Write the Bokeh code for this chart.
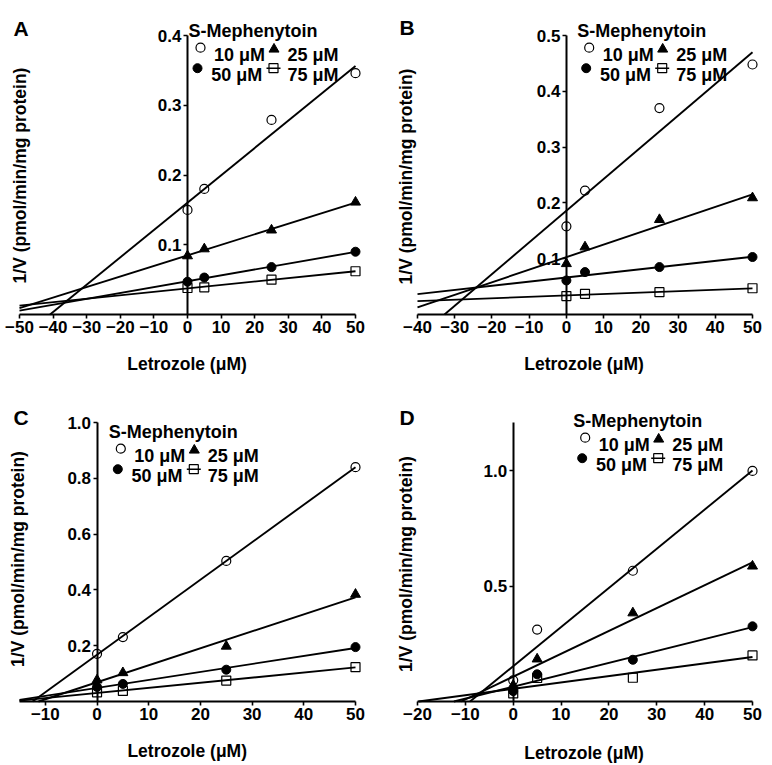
import numpy as np
from bokeh.plotting import figure
from bokeh.models import Range1d, FixedTicker, PrintfTickFormatter, Label
from bokeh.layouts import column, row
from bokeh.embed import file_html
from bokeh.resources import INLINE

# ---------------- data ----------------
letrozole = [0, 5, 25, 50]                       # Letrozole (uM)
series_labels = ["10 μM", "25 μM", "50 μM", "75 μM"]  # S-Mephenytoin concentrations

# Panel A  (1/V)
a_10 = [0.150, 0.180, 0.279, 0.346]
a_25 = [0.084, 0.094, 0.121, 0.161]
a_50 = [0.047, 0.053, 0.068, 0.090]
a_75 = [0.038, 0.039, 0.050, 0.062]

# Panel B
b_10 = [0.158, 0.222, 0.370, 0.448]
b_25 = [0.091, 0.121, 0.170, 0.209]
b_50 = [0.061, 0.076, 0.085, 0.103]
b_75 = [0.033, 0.037, 0.040, 0.047]

# Panel C
c_10 = [0.171, 0.231, 0.504, 0.840]
c_25 = [0.077, 0.103, 0.198, 0.384]
c_50 = [0.052, 0.063, 0.114, 0.195]
c_75 = [0.033, 0.038, 0.075, 0.123]

# Panel D
d_10 = [0.092, 0.312, 0.567, 1.000]
d_25 = [0.070, 0.184, 0.384, 0.587]
d_50 = [0.045, 0.118, 0.181, 0.326]
d_75 = [0.035, 0.102, 0.103, 0.200]

# axes
a_xticks = [-50, -40, -30, -20, -10, 0, 10, 20, 30, 40, 50]
a_yticks = [0.1, 0.2, 0.3, 0.4]
b_xticks = [-40, -30, -20, -10, 0, 10, 20, 30, 40, 50]
b_yticks = [0.1, 0.2, 0.3, 0.4, 0.5]
c_xticks = [-10, 0, 10, 20, 30, 40, 50]
c_yticks = [0.2, 0.4, 0.6, 0.8, 1.0]
d_xticks = [-20, -10, 0, 10, 20, 30, 40, 50]
d_yticks = [0.5, 1.0]

FONT = "Liberation Sans"

MARKERS = [
    dict(marker="circle", size=9, fill_color=None, line_color="black", line_width=1.2),
    dict(marker="triangle", size=10, fill_color="black", line_color="black", line_width=1),
    dict(marker="circle", size=9, fill_color="black", line_color="black", line_width=1),
    dict(marker="square", size=9, fill_color=None, line_color="black", line_width=1.2),
]


def make_panel(letter, series, xr, yr, xticks, yticks, w, h, bl, bt, fw, fh,
               letter_pos, ylab_pos, xlab_pos, leg_pos):
    x0, x1 = xr
    y0, y1 = yr
    xs = fw / (x1 - x0)          # px per x unit
    ys_ = fh / (y1 - y0)         # px per y unit
    x_start = x0 - bl / xs
    x_end = x_start + w / xs
    y_end = y1 + bt / ys_
    y_start = y_end - h / ys_
    p = figure(width=w, height=h, x_range=Range1d(x_start, x_end),
               y_range=Range1d(y_start, y_end),
               output_backend="svg", toolbar_location=None, title=None,
               min_border_left=0, min_border_right=0,
               min_border_top=0, min_border_bottom=0)
    p.xgrid.visible = False
    p.ygrid.visible = False
    p.outline_line_color = None
    p.background_fill_color = "white"
    p.border_fill_color = "white"

    def d(fx, fy):
        return (x_start + fx / xs, y_end - fy / ys_)

    for ax in (p.xaxis[0], p.yaxis[0]):
        ax.axis_line_width = 2
        ax.axis_line_color = "black"
        ax.major_tick_line_width = 1.6
        ax.major_tick_out = 4
        ax.major_tick_in = 0
        ax.minor_tick_line_color = None
        ax.major_label_text_font = FONT
        ax.major_label_text_font_style = "bold"
        ax.major_label_text_font_size = "17px"
        ax.major_label_text_color = "black"
        ax.major_label_standoff = 2
        ax.axis_label = None
        ax.fixed_location = 0
    p.xaxis.ticker = FixedTicker(ticks=xticks)
    p.xaxis.bounds = (x0, x1)
    p.yaxis.ticker = FixedTicker(ticks=yticks)
    p.yaxis.bounds = (y0, y1)
    p.yaxis.formatter = PrintfTickFormatter(format="%.1f")

    # regression lines then points
    xmax = max(letrozole)
    for ys in series:
        m, b = np.polyfit(letrozole, ys, 1)
        xl = x0
        if m > 0 and m * x0 + b < 0:
            xl = -b / m
        p.line([xl, xmax], [m * xl + b, m * xmax + b], line_color="black", line_width=1.9)
    for ys, mk in zip(series, MARKERS):
        p.scatter(letrozole, ys, **mk)

    txt = dict(text_font=FONT, text_font_style="bold", text_color="black")
    # panel letter
    lx, ly = d(*letter_pos)
    p.add_layout(Label(x=lx, y=ly, text=letter, text_font_size="21px",
                       text_align="left", text_baseline="alphabetic", **txt))
    # axis titles
    yx, yy = d(*ylab_pos)
    p.add_layout(Label(x=yx, y=yy, text="1/V (pmol/min/mg protein)", angle=np.pi / 2,
                       text_font_size="17.5px", text_align="center", text_baseline="middle", **txt))
    xx, xy = d(*xlab_pos)
    p.add_layout(Label(x=xx, y=xy, text="Letrozole (μM)", text_font_size="17.5px",
                       text_align="center", text_baseline="alphabetic", **txt))
    # legend
    tx, ty = leg_pos
    lx_, ly_ = d(tx, ty)
    p.add_layout(Label(x=lx_, y=ly_, text="S-Mephenytoin", text_font_size="18px",
                       text_align="left", text_baseline="alphabetic", **txt))
    marker_offsets = [(12, 16.5), (85.5, 18), (9, 37), (85, 37)]
    text_offsets = [(25.5, 23.3), (99, 23.3), (22.7, 43.3), (99, 43.3)]
    for i, (lab, mk) in enumerate(zip(series_labels, MARKERS)):
        mx, my = d(tx + marker_offsets[i][0], ty + marker_offsets[i][1])
        if i == 3:
            ax_, ay_ = d(tx + marker_offsets[i][0] - 7, ty + marker_offsets[i][1])
            bx_, by_ = d(tx + marker_offsets[i][0] + 7, ty + marker_offsets[i][1])
            p.line([ax_, bx_], [ay_, by_], line_color="black", line_width=1.5)
        p.scatter([mx], [my], **mk)
        sx, sy = d(tx + text_offsets[i][0], ty + text_offsets[i][1])
        p.add_layout(Label(x=sx, y=sy, text=lab, text_font_size="18px",
                           text_align="left", text_baseline="alphabetic", **txt))
    return p


pa = make_panel("A", [a_10, a_25, a_50, a_75], (-50, 50), (0, 0.4), a_xticks, a_yticks,
                386, 386, 19, 35, 336, 279,
                (13, 28), (19.5, 175), (186.5, 363.3), (188, 30.7))
pb = make_panel("B", [b_10, b_25, b_50, b_75], (-40, 50), (0, 0.5), b_xticks, b_yticks,
                385, 386, 31, 35, 335, 279,
                (13, 27), (19.5, 176), (197.5, 363.3), (190.7, 30.7))
pc = make_panel("C", [c_10, c_25, c_50, c_75], (-15, 50), (0, 1.0), c_xticks, c_yticks,
                386, 378, 19, 36, 336, 279,
                (13, 31.3), (17.5, 172.5), (186.7, 364.7), (108.3, 45.7))
pd = make_panel("D", [d_10, d_25, d_50, d_75], (-20, 50), (0, 1.21), d_xticks, d_yticks,
                385, 378, 31, 36, 335, 279,
                (13, 30.7), (19.5, 177.5), (197.5, 366.3), (186.7, 34.7))

layout = column(row(pa, pb), row(pc, pd))
open("out.html", "w").write(file_html(layout, INLINE))
